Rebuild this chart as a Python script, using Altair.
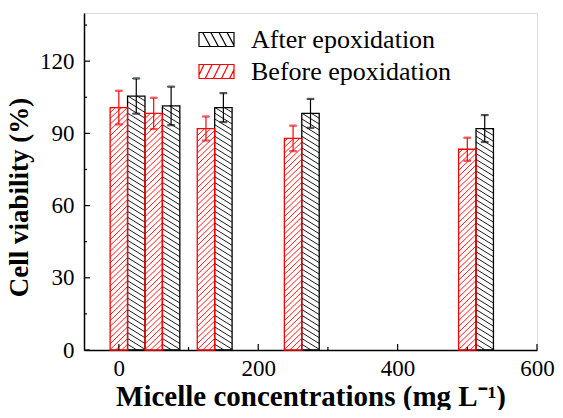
import altair as alt
import pandas as pd

# ---- data ----
conc = [0, 50, 125, 250, 500]
before = [100.7, 98.3, 92.0, 87.9, 83.4]
before_err = [7.0, 6.5, 5.0, 5.3, 4.8]
after = [105.5, 101.4, 100.7, 98.3, 92.0]
after_err = [7.3, 8.0, 6.0, 6.0, 5.6]
series = ["After epoxidation", "Before epoxidation"]
colors = ["#000000", "#ff0000"]
y_ticks = [0, 30, 60, 90, 120]
y_minor = [15, 45, 75, 105, 135]
x_ticks = [0, 200, 400, 600]
x_minor = [100, 300, 500]

BAR_W = 25
rows = []
for c, v, e in zip(conc, after, after_err):
    rows.append(dict(series=series[0], center=c + BAR_W, left=c + BAR_W / 2,
                     right=c + 1.5 * BAR_W, value=v, lo=v - e, hi=v + e))
for c, v, e in zip(conc, before, before_err):
    rows.append(dict(series=series[1], center=c, left=c - BAR_W / 2,
                     right=c + BAR_W / 2, value=v, lo=v - e, hi=v + e))
bars = pd.DataFrame(rows)

# hatch segments derived from the bars
HATCH = {series[0]: (4.5, -1), series[1]: (7.0, 1)}
SP = 2.4
hrows = []
for r in rows:
    rise, d = HATCH[r["series"]]
    w = r["right"] - r["left"]
    y0 = -rise
    while y0 < r["value"]:
        tlo = max(0.0, -y0 / rise)
        thi = min(1.0, (r["value"] - y0) / rise)
        if thi > tlo:
            if d == 1:
                xa, xb = r["left"] + w * tlo, r["left"] + w * thi
            else:
                xa, xb = r["right"] - w * tlo, r["right"] - w * thi
            hrows.append(dict(series=r["series"], hx=xa, hx2=xb,
                              hy=y0 + rise * tlo, hy2=y0 + rise * thi))
        y0 += SP
hatch = pd.DataFrame(hrows)

FONT = "Liberation Serif"
path_after = ("M-1.4,-0.56H1.4V0.56H-1.4Z M-1.1,-0.56L-0.5,0.56 M-0.45,-0.56L0.15,0.56 "
              "M0.2,-0.56L0.8,0.56 M0.85,-0.56L1.4,0.47")
path_before = ("M-1.4,-0.56H1.4V0.56H-1.4Z M-1.4,0.3L-1.0,-0.56 M-0.9,0.56L-0.35,-0.56 "
               "M-0.25,0.56L0.3,-0.56 M0.4,0.56L0.95,-0.56 M1.05,0.56L1.4,-0.15")

xscale = alt.Scale(domain=[-50, 600], nice=False, zero=False)
yscale = alt.Scale(domain=[0, 140], nice=False)

stroke = alt.Stroke(
    "series:N",
    scale=alt.Scale(domain=series, range=colors),
    legend=alt.Legend(
        title=None, orient="none", legendX=119, legendY=13, padding=0,
        labelFont=FONT, labelFontSize=26, labelColor="black", labelOffset=21,
        symbolSize=625, symbolStrokeWidth=1.2, rowPadding=5, labelLimit=400,
        symbolFillColor="white",
        symbolType=alt.ExprRef(expr="datum.value === 'After epoxidation' ? '" + path_after + "' : '" + path_before + "'"),
    ),
)

xaxis = alt.Axis(values=x_ticks, title="Micelle concentrations (mg L⁻¹)", grid=False,
                 ticks=False, labelFont=FONT, labelFontSize=23, labelColor="black",
                 labelPadding=7, labelOverlap=False, labelFlush=False,
                 titleFont=FONT, titleFontSize=29, titleFontWeight="bold", titleColor="black",
                 titleBaseline="alphabetic", titleY=55,
                 domainColor="black", domainWidth=1.5)
yaxis = alt.Axis(values=y_ticks, title="Cell viability (%)", grid=False, ticks=False,
                 labelFont=FONT, labelFontSize=23, labelColor="black", labelPadding=10,
                 titleFont=FONT, titleFontSize=27, titleFontWeight="bold", titleColor="black",
                 titlePadding=6, titleY=184, domainColor="black", domainWidth=1.5)

hatch_layer = alt.Chart(hatch).mark_rule(strokeWidth=0.9).encode(
    x=alt.X("hx:Q", scale=xscale, axis=xaxis),
    x2="hx2:Q",
    y=alt.Y("hy:Q", scale=yscale, axis=yaxis),
    y2="hy2:Q",
    stroke=stroke,
)

rect_layer = alt.Chart(bars).mark_rect(fill="transparent", strokeWidth=1.3).encode(
    x=alt.X("left:Q", scale=xscale),
    x2="right:Q",
    y=alt.Y("value:Q", scale=yscale),
    y2=alt.datum(0),
    stroke=stroke,
)

err_rule = alt.Chart(bars).mark_rule(strokeWidth=1.2).encode(
    x=alt.X("center:Q", scale=xscale), y=alt.Y("lo:Q", scale=yscale), y2="hi:Q", stroke=stroke)
cap_hi = alt.Chart(bars).mark_tick(orient="horizontal", size=7, thickness=1.2).encode(
    x=alt.X("center:Q", scale=xscale), y=alt.Y("hi:Q", scale=yscale), stroke=stroke)
cap_lo = alt.Chart(bars).mark_tick(orient="horizontal", size=7, thickness=1.2).encode(
    x=alt.X("center:Q", scale=xscale), y=alt.Y("lo:Q", scale=yscale), stroke=stroke)

ymaj = alt.Chart(pd.DataFrame({"t": y_ticks})).mark_rule(color="black", strokeWidth=1.2).encode(
    y=alt.Y("t:Q", scale=yscale), x=alt.value(0), x2=alt.value(6))
ymin = alt.Chart(pd.DataFrame({"t": y_minor})).mark_rule(color="black", strokeWidth=1.2).encode(
    y=alt.Y("t:Q", scale=yscale), x=alt.value(0), x2=alt.value(3))
xmaj = alt.Chart(pd.DataFrame({"t": x_ticks})).mark_rule(color="black", strokeWidth=1.2).encode(
    x=alt.X("t:Q", scale=xscale), y=alt.value(337), y2=alt.value(331))
xmin = alt.Chart(pd.DataFrame({"t": x_minor})).mark_rule(color="black", strokeWidth=1.2).encode(
    x=alt.X("t:Q", scale=xscale), y=alt.value(337), y2=alt.value(334))

chart = alt.layer(
    hatch_layer, rect_layer, err_rule, cap_hi, cap_lo, ymaj, ymin, xmaj, xmin
).properties(
    width=453, height=337,
    autosize=alt.AutoSizeParams(type="none"),
    padding={"left": 76, "top": 5, "right": 18, "bottom": 60},
).configure_view(
    stroke="black", strokeWidth=1.5
).configure(background="white")

chart.save("out.html", embed_options={"renderer": "svg", "actions": False})
